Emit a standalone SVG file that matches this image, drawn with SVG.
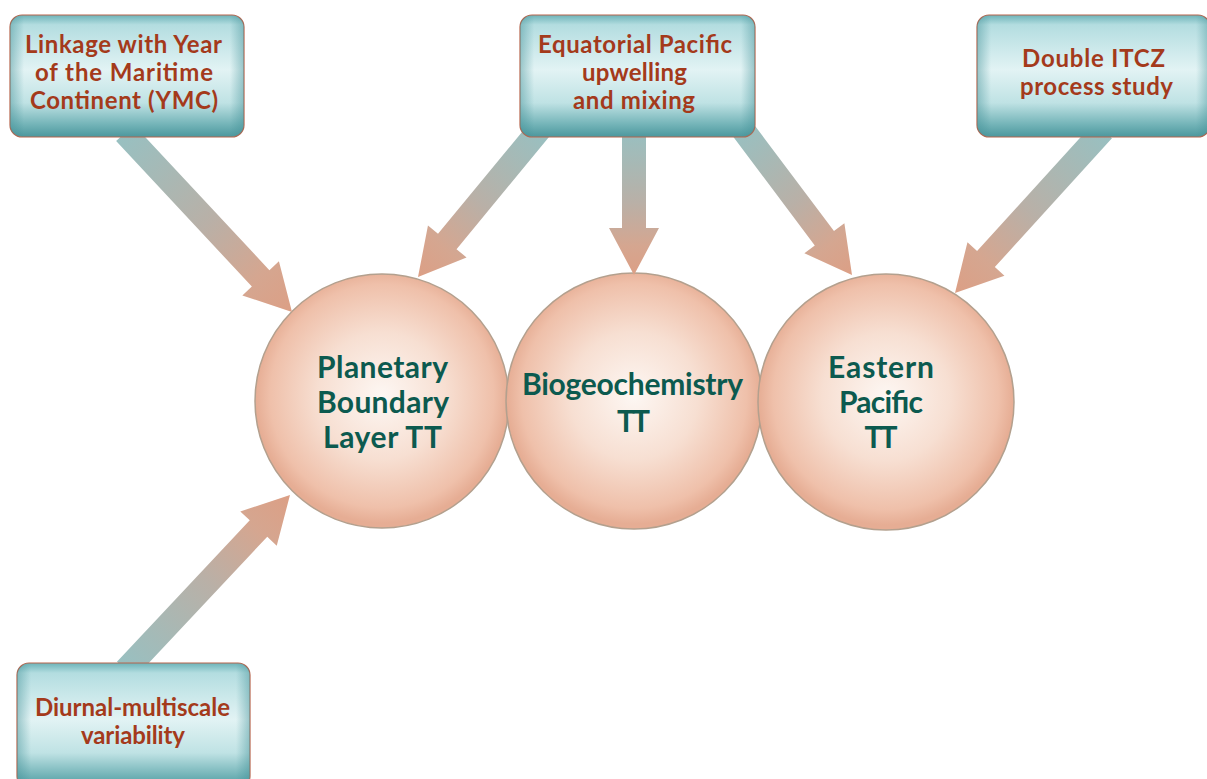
<svg xmlns="http://www.w3.org/2000/svg" width="1207" height="779" viewBox="0 0 1207 779">
<defs>
<linearGradient id="boxV" x1="0" y1="0" x2="0" y2="1">
<stop offset="0" stop-color="#6db3b8"/>
<stop offset="0.08" stop-color="#b3dde0"/>
<stop offset="0.45" stop-color="#e2f3f4"/>
<stop offset="0.72" stop-color="#bfe2e4"/>
<stop offset="0.9" stop-color="#72b3b7"/>
<stop offset="1" stop-color="#4c979d"/>
</linearGradient>
<linearGradient id="boxH" x1="0" y1="0" x2="1" y2="0">
<stop offset="0" stop-color="#3f8e95" stop-opacity="0.45"/>
<stop offset="0.06" stop-color="#3f8e95" stop-opacity="0"/>
<stop offset="0.94" stop-color="#3f8e95" stop-opacity="0"/>
<stop offset="1" stop-color="#3f8e95" stop-opacity="0.45"/>
</linearGradient>
<radialGradient id="ball" cx="0.5" cy="0.48" r="0.5">
<stop offset="0" stop-color="#fdf7f3"/>
<stop offset="0.5" stop-color="#f7dfd2"/>
<stop offset="0.88" stop-color="#efc0aa"/>
<stop offset="1" stop-color="#e6ad94"/>
</radialGradient>
<linearGradient id="arr" x1="0" y1="0" x2="1" y2="0">
<stop offset="0" stop-color="#98c0c1"/>
<stop offset="0.5" stop-color="#b9b0a7"/>
<stop offset="0.8" stop-color="#d5a690"/>
<stop offset="1" stop-color="#dc9f85"/>
</linearGradient>
<style>
.box{stroke:#b8654d;stroke-width:1.2}
.bt{font-family:Lato,"Open Sans",sans-serif;font-weight:bold;font-size:24px;fill:#a43a1b;text-anchor:middle}
.ct{font-family:Lato,"Open Sans",sans-serif;font-weight:bold;font-size:30px;fill:#0c5a4f;text-anchor:middle}
.circ{fill:url(#ball);stroke:#b3a08e;stroke-width:1.5}
.ar{fill:url(#arr)}
</style>
</defs>
<rect width="1207" height="779" fill="#ffffff"/>

<g id="node-pbl">
<circle class="circ" cx="382" cy="401" r="127"/>
<text class="ct" x="382.5" y="378" textLength="131">Planetary</text>
<text class="ct" x="383" y="413" textLength="132">Boundary</text>
<text class="ct" x="382.5" y="448" textLength="119">Layer TT</text>
</g>
<g id="node-bio">
<circle class="circ" cx="634" cy="401" r="128"/>
<text class="ct" x="632.5" y="395" textLength="221">Biogeochemistry</text>
<text class="ct" x="633.5" y="432" textLength="33">TT</text>
</g>
<g id="node-ep">
<circle class="circ" cx="886" cy="402" r="128"/>
<text class="ct" x="881" y="378" textLength="106">Eastern</text>
<text class="ct" x="881" y="413" textLength="84">Pacific</text>
<text class="ct" x="881" y="448" textLength="33">TT</text>
</g>

<g id="connectors">
<path class="ar" d="M-245,-12 H-46 V-25 L0,0 L-46,25 V12 H-245 Z" transform="translate(292,312) rotate(47)"/>
<path class="ar" d="M-193,-12 H-46 V-25 L0,0 L-46,25 V12 H-193 Z" transform="translate(418,277) rotate(129.5)"/>
<path class="ar" d="M-145,-12 H-47 V-25 L0,0 L-47,25 V12 H-145 Z" transform="translate(634,275) rotate(90)"/>
<path class="ar" d="M-184,-12 H-46 V-25 L0,0 L-46,25 V12 H-184 Z" transform="translate(852,275) rotate(53.1)"/>
<path class="ar" d="M-220,-12 H-46 V-25 L0,0 L-46,25 V12 H-220 Z" transform="translate(955,293) rotate(132.3)"/>
<path class="ar" d="M-240,-12 H-46 V-25 L0,0 L-46,25 V12 H-240 Z" transform="translate(290,495) rotate(-46.8)"/>
</g>

<g id="node-ymc">
<rect class="box" x="10" y="15" width="234" height="122" rx="12" fill="url(#boxV)"/>
<rect x="10" y="15" width="234" height="122" rx="12" fill="url(#boxH)"/>
<text class="bt" x="123.5" y="53" textLength="197">Linkage with Year</text>
<text class="bt" x="124" y="81" textLength="178">of the Maritime</text>
<text class="bt" x="124" y="109" textLength="188">Continent (YMC)</text>
</g>
<g id="node-eq">
<rect class="box" x="520" y="15" width="235" height="122" rx="12" fill="url(#boxV)"/>
<rect x="520" y="15" width="235" height="122" rx="12" fill="url(#boxH)"/>
<text class="bt" x="635" y="53" textLength="194">Equatorial Pacific</text>
<text class="bt" x="634.5" y="81" textLength="105">upwelling</text>
<text class="bt" x="634" y="109" textLength="122">and mixing</text>
</g>
<g id="node-itcz">
<rect class="box" x="977" y="15" width="233" height="122" rx="12" fill="url(#boxV)"/>
<rect x="977" y="15" width="233" height="122" rx="12" fill="url(#boxH)"/>
<text class="bt" x="1093.5" y="67" textLength="143">Double ITCZ</text>
<text class="bt" x="1096.5" y="95" textLength="153">process study</text>
</g>
<g id="node-diurnal">
<rect class="box" x="17" y="663" width="233" height="125" rx="12" fill="url(#boxV)"/>
<rect x="17" y="663" width="233" height="125" rx="12" fill="url(#boxH)"/>
<text class="bt" x="132.5" y="716" textLength="195">Diurnal-multiscale</text>
<text class="bt" x="133" y="744" textLength="104">variability</text>
</g>
</svg>
